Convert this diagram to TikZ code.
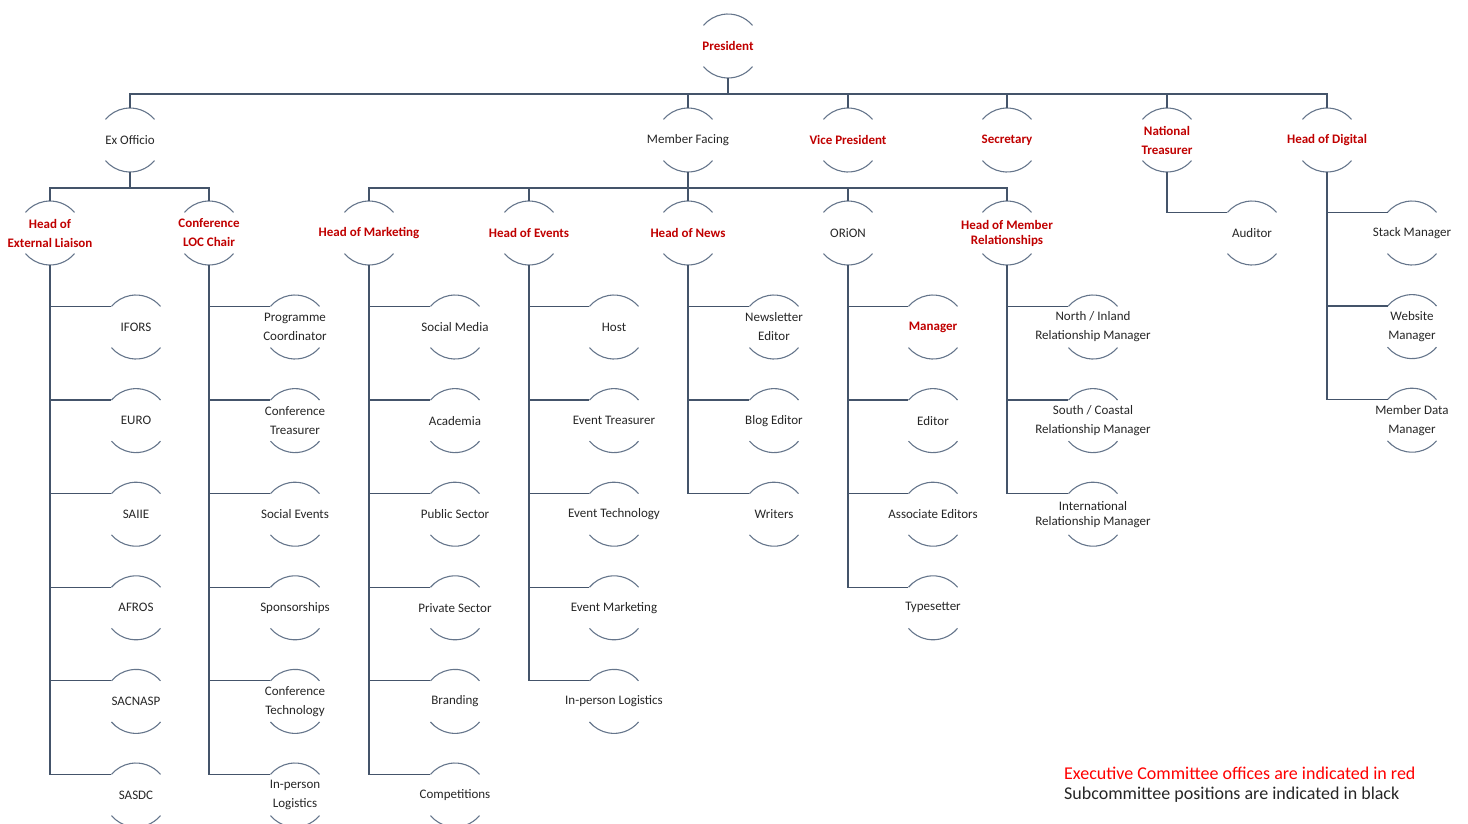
\documentclass[tikz,border=0pt]{standalone}
\usepackage{fontspec}
\setmainfont{Carlito}
\definecolor{linegray}{HTML}{44546A}
\definecolor{arcgray}{HTML}{65758B}
\definecolor{execred}{HTML}{C00000}
\definecolor{legred}{HTML}{FF0000}
\definecolor{subblack}{HTML}{262626}

\tikzset{
  posc/.style={circle, minimum size=64pt, inner sep=0pt, outer sep=0pt},
  exec/.style={text=execred, font=\fontsize{13}{19}\selectfont\bfseries, align=center},
  sub/.style={text=subblack, font=\fontsize{13}{19}\selectfont, align=center},
  link/.style={draw=linegray, line width=1.2pt},
  rim/.style={draw=arcgray, line width=1.1pt},
}

\begin{document}
\begin{tikzpicture}[x=1pt,y=-1pt]
		\newcommand\orgpos[5]{ %% name, x, y, text style, text
			\node[posc] (#1) at (#2,#3) {};
			\node[#4] (#1t) at (#1) {#5};
			\draw[rim] (#1.40) arc[start angle=40, end angle=140, radius=32pt];
			\draw[rim] (#1.-40) arc[start angle=-40, end angle=-140, radius=32pt];
		}
		\useasboundingbox (0,0) rectangle (1468,823);
		
		%% top
		\orgpos{pres}{728}{46}{exec}{President}
		\orgpos{exo}{130}{140}{sub}{Ex Officio}
		\orgpos{mfc}{688}{140}{sub}{Member Facing}
		\orgpos{vp}{848}{140}{exec}{Vice President}
		\orgpos{sec}{1007}{140}{exec}{Secretary}
		\orgpos{ntr}{1167}{140}{exec}{National\\Treasurer}
		\orgpos{hdg}{1327}{140}{exec}{Head of Digital}
		\foreach \c in {exo,mfc,vp,sec,ntr,hdg}
			\draw[link] (pres.south) -- ++(0,16) -| (\c.north);
		
		%% heads
		\orgpos{hel}{50}{233}{exec}{Head of\\External Liaison}
		\orgpos{loc}{209}{233}{exec}{Conference\\LOC Chair}
		\foreach \c in {hel,loc}
			\draw[link] (exo.south) -- ++(0,16) -| (\c.north);
		\orgpos{hmk}{369}{233}{exec}{Head of Marketing}
		\orgpos{hev}{529}{233}{exec}{Head of Events}
		\orgpos{hnw}{688}{233}{exec}{Head of News}
		\orgpos{ori}{848}{233}{sub}{ORiON}
		\orgpos{hmr}{1007}{233}{exec, font=\fontsize{13}{15}\selectfont\bfseries}{Head of Member\\Relationships}
		\foreach \c in {hmk,hev,hnw,ori,hmr}
			\draw[link] (mfc.south) -- ++(0,16) -| (\c.north);
		\orgpos{aud}{1252}{233}{sub}{Auditor}
		\draw[link] (ntr.south) |- (aud.140);
		
		%% subcommittees
		\foreach \nm/\txt [count=\i from 0] in {ifo/IFORS, eur/EURO, sai/SAIIE, afr/AFROS, sac/SACNASP, sas/SASDC}{
			\orgpos{\nm}{136}{327+93.6*\i}{sub}{\txt}
			\draw[link] (hel.south) |- (\nm.140);
		}
		\foreach \nm/\txt [count=\i from 0] in {pco/{Programme\\Coordinator}, ctr/{Conference\\Treasurer}, sev/Social Events, spo/Sponsorships, cte/{Conference\\Technology}, ilg/{In-person\\Logistics}}{
			\orgpos{\nm}{295}{327+93.6*\i}{sub}{\txt}
			\draw[link] (loc.south) |- (\nm.140);
		}
		\foreach \nm/\txt [count=\i from 0] in {smd/Social Media, aca/Academia, pub/Public Sector, pri/Private Sector, bra/Branding, com/Competitions}{
			\orgpos{\nm}{455}{327+93.6*\i}{sub}{\txt}
			\draw[link] (hmk.south) |- (\nm.140);
		}
		\foreach \nm/\txt [count=\i from 0] in {hst/Host, etr/Event Treasurer, ete/Event Technology, emk/Event Marketing, eil/In-person Logistics}{
			\orgpos{\nm}{614}{327+93.6*\i}{sub}{\txt}
			\draw[link] (hev.south) |- (\nm.140);
		}
		\foreach \nm/\txt [count=\i from 0] in {nle/{Newsletter\\Editor}, ble/Blog Editor, wri/Writers}{
			\orgpos{\nm}{774}{327+93.6*\i}{sub}{\txt}
			\draw[link] (hnw.south) |- (\nm.140);
		}
		\orgpos{man}{933}{327}{exec}{Manager}
		\draw[link] (ori.south) |- (man.140);
		\foreach \nm/\txt [count=\i from 1] in {edi/Editor, aed/Associate Editors, typ/Typesetter}{
			\orgpos{\nm}{933}{327+93.6*\i}{sub}{\txt}
			\draw[link] (ori.south) |- (\nm.140);
		}
		\foreach \nm/\txt [count=\i from 0] in {nir/{North / Inland\\Relationship Manager}, scr/{South / Coastal\\Relationship Manager}}{
			\orgpos{\nm}{1093}{327+93.6*\i}{sub}{\txt}
			\draw[link] (hmr.south) |- (\nm.140);
		}
		\orgpos{inr}{1093}{514.2}{sub, font=\fontsize{13}{15}\selectfont}{International\\Relationship Manager}
		\draw[link] (hmr.south) |- (inr.140);
		\foreach \nm/\txt [count=\i from 0] in {stk/Stack Manager, web/{Website\\Manager}, mdm/{Member Data\\Manager}}{
			\orgpos{\nm}{1412}{233+93.6*\i}{sub}{\txt}
			\draw[link] (hdg.south) |- (\nm.140);
		}
		
		\node[anchor=west, inner sep=0pt, text=legred, font=\fontsize{18}{22}\selectfont] (leg1) at (1064,773) {Executive Committee offices are indicated in red};
		\node[anchor=west, inner sep=0pt, text=subblack, font=\fontsize{18}{22}\selectfont] (leg2) at (1064,795) {Subcommittee positions are indicated in black};
	\end{tikzpicture}
\end{document}
